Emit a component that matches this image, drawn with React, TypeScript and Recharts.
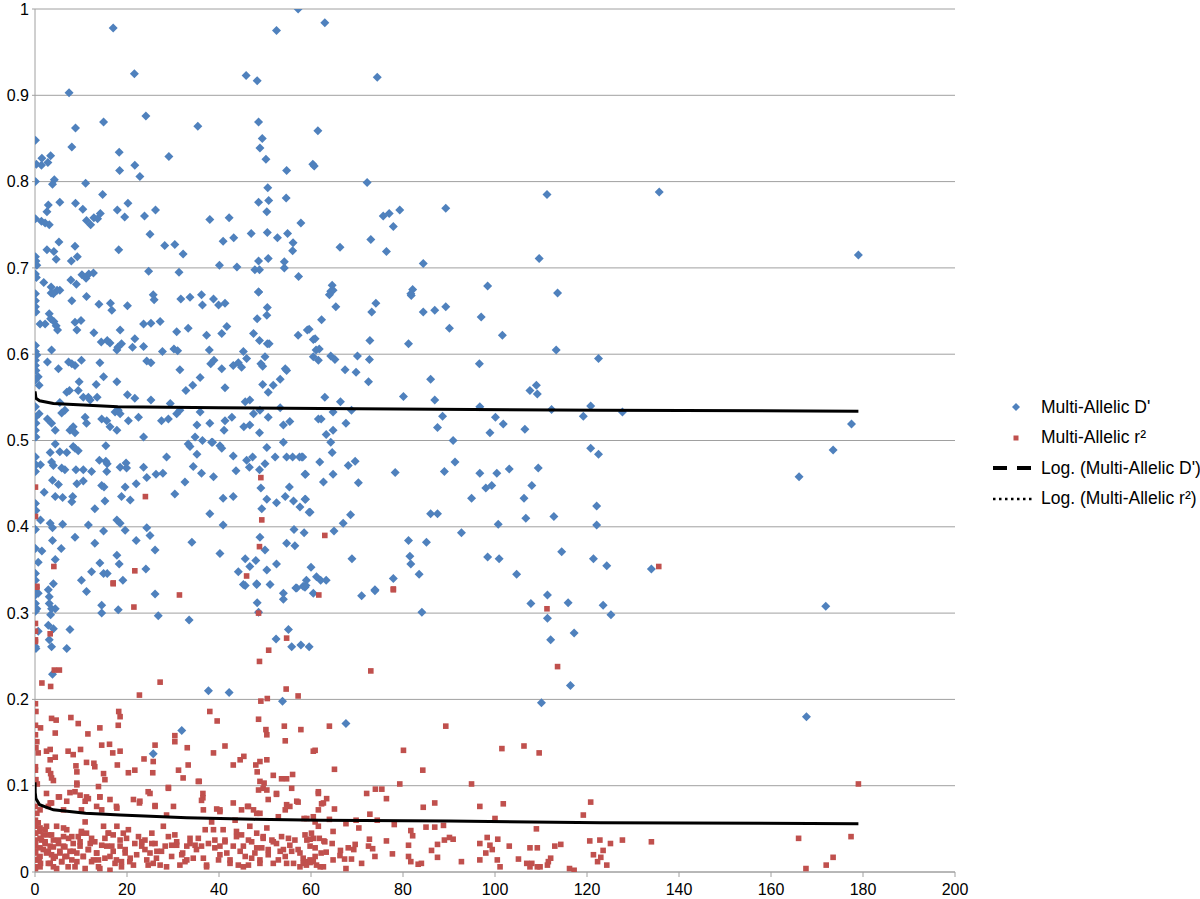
import React from "react";
import { ScatterChart, Scatter, XAxis, YAxis, CartesianGrid } from "recharts";

// [distance, value]
const dPrimePoints: number[][] = [
  [17.0,0.978],[21.6,0.925],[7.4,0.903],[52.5,0.975],[57.2,1.0],[45.9,0.923],[48.3,0.917],[24.1,0.876],[14.9,0.869],[8.8,0.862],
  [35.4,0.864],[48.6,0.869],[49.4,0.85],[48.9,0.839],[0.1,0.848],[8.0,0.84],[18.3,0.834],[29.1,0.829],[3.4,0.83],[1.5,0.827],
  [0.3,0.82],[1.4,0.819],[2.8,0.822],[18.4,0.813],[21.7,0.819],[22.8,0.806],[50.2,0.826],[54.7,0.813],[60.4,0.82],[60.7,0.818],
  [61.5,0.859],[0.1,0.8],[4.2,0.802],[3.8,0.797],[11,0.798],[14.7,0.785],[50.6,0.793],[54.6,0.781],[50.8,0.778],[48.6,0.776],
  [50.4,0.765],[57.8,0.752],[54.9,0.74],[52.7,0.735],[50.5,0.741],[47.0,0.74],[56.1,0.729],[56.0,0.72],[5.4,0.776],[2.9,0.773],
  [2.6,0.765],[8.8,0.775],[10.4,0.768],[11.2,0.755],[12.1,0.75],[12.8,0.758],[13.6,0.757],[14.2,0.763],[17.9,0.767],[19.5,0.759],
  [20.2,0.775],[23.8,0.76],[26.2,0.767],[25,0.739],[38,0.756],[42.2,0.758],[43.2,0.735],[40.9,0.731],[0.1,0.757],[1.4,0.754],
  [2.2,0.752],[3.1,0.75],[5.2,0.73],[8.7,0.725],[2.6,0.721],[4.1,0.719],[4.6,0.71],[9.2,0.713],[7.9,0.708],[18.2,0.721],
  [28.2,0.726],[30.4,0.727],[32.2,0.716],[0.1,0.713],[0.2,0.708],[0.4,0.703],[0.1,0.693],[0.3,0.689],[1.9,0.683],[3.5,0.678],
  [3.5,0.671],[4.8,0.674],[7.8,0.686],[9,0.681],[10.2,0.692],[11.1,0.688],[11.7,0.693],[12.7,0.694],[24.7,0.696],[31.3,0.695],
  [40.1,0.703],[43.9,0.701],[47.8,0.698],[48.8,0.698],[48.6,0.708],[54.2,0.707],[54.2,0.70],[57.3,0.69],[48.6,0.672],[50.7,0.711],
  [63.0,0.984],[74.4,0.921],[72.2,0.799],[111.3,0.785],[89.3,0.769],[79.3,0.767],[75.7,0.76],[77.0,0.763],[77.9,0.748],[73,0.733],
  [66.3,0.724],[76.4,0.719],[109.6,0.711],[84.4,0.705],[64.3,0.673],[64.6,0.68],[82.1,0.675],[81.8,0.668],[98.4,0.679],[113.6,0.671],
  [135.7,0.788],[179,0.715],
  [0.1,0.670],[0.1,0.662],[0.1,0.655],[0.2,0.649],[4.0,0.670],[5.4,0.674],[8.0,0.662],[11.2,0.667],[13.9,0.658],[16.4,0.659],
  [16.7,0.651],[20.1,0.656],[25.7,0.669],[25.9,0.663],[31.7,0.664],[33.7,0.666],[36.2,0.669],[36.4,0.657],[38.8,0.664],[39.9,0.657],
  [41.3,0.659],[48.6,0.672],[50.5,0.654],[50.4,0.645],
  [1.1,0.635],[2.2,0.635],[3.1,0.647],[3.4,0.641],[4.1,0.638],[4.6,0.633],[4.9,0.628],[8.7,0.637],[10.0,0.639],[9.1,0.628],
  [12.8,0.625],[14.4,0.614],[15.7,0.616],[16.3,0.613],[17.8,0.605],[18.0,0.608],[18.8,0.612],[18.5,0.628],[21.2,0.608],[21.7,0.618],
  [23.6,0.635],[25.2,0.636],[27.2,0.638],[23.6,0.609],[27.7,0.603],[30.8,0.626],[30.2,0.606],[31.0,0.604],[33.3,0.630],[37.3,0.622],
  [37.9,0.605],[40.6,0.624],[41.7,0.632],[45.3,0.603],[47.5,0.624],[48.3,0.641],[48.8,0.616],[50.5,0.612],[50.0,0.597],[50.9,0.612],
  [57.2,0.622],[59.2,0.628],[60.5,0.617],[61.1,0.605],[0.1,0.610],[0.1,0.603],[0.4,0.599],
  [0.1,0.593],[0.1,0.587],[0.2,0.581],[0.7,0.574],[0.1,0.570],[0.9,0.564],[2.7,0.591],[3.6,0.605],[5.1,0.583],[7.3,0.591],
  [8.0,0.589],[8.7,0.587],[10.1,0.593],[9.6,0.568],[9.4,0.558],[7.5,0.558],[6.9,0.556],[10.5,0.550],[11.6,0.550],[13.5,0.550],
  [14.1,0.590],[14.9,0.574],[13.3,0.565],[17.8,0.568],[20.1,0.553],[21.7,0.549],[24.3,0.592],[25.2,0.590],[25.2,0.547],[31.5,0.582],
  [32.8,0.558],[34.3,0.564],[35.9,0.573],[38.2,0.589],[38.9,0.593],[40.6,0.583],[41.3,0.561],[43.1,0.587],[44.2,0.590],[44.9,0.585],
  [46.0,0.595],[49.1,0.589],[49.5,0.586],[49.5,0.565],[50.7,0.556],[51.8,0.564],[53.3,0.571],[54.4,0.583],[54.7,0.581],[60.5,0.597],
  [61.6,0.593],[46.7,0.547],[45.7,0.545],
  [0.1,0.539],[0.1,0.527],[0.2,0.520],[0.1,0.512],[0.2,0.504],[0.9,0.531],[2.7,0.525],[3.6,0.520],[4.4,0.512],[5.4,0.544],
  [5.8,0.532],[6.5,0.535],[7.6,0.512],[8.3,0.516],[8.7,0.509],[10.9,0.527],[11.2,0.520],[12.0,0.547],[14.5,0.525],[15.6,0.523],
  [16.3,0.516],[17.4,0.533],[18.1,0.535],[17.8,0.512],[18.5,0.531],[20.3,0.523],[22.5,0.527],[23.6,0.504],[27.5,0.523],[29.0,0.525],
  [29.4,0.543],[30.8,0.531],[31.5,0.535],[35.2,0.518],[34.8,0.504],[35.9,0.533],[36.4,0.500],[38.0,0.520],[38.6,0.498],[41.3,0.523],
  [41.1,0.512],[42.8,0.527],[45.4,0.516],[46.7,0.518],[47.5,0.531],[48.9,0.535],[48.8,0.509],[50.7,0.527],[54.0,0.518],[55.4,0.522],
  [53.3,0.538],[61.6,0.525],
  [0.1,0.481],[0.1,0.464],[0.2,0.472],[1.2,0.472],[3.3,0.486],[3.6,0.475],[4.0,0.471],[4.4,0.496],[5.4,0.487],[5.8,0.468],
  [6.5,0.466],[6.9,0.486],[8.3,0.493],[8.7,0.491],[9.4,0.488],[8.9,0.466],[10.5,0.466],[12.3,0.464],[14.0,0.477],[15.4,0.476],
  [15.7,0.473],[15.6,0.464],[15.4,0.494],[18.5,0.469],[19.8,0.474],[19.9,0.468],[23.6,0.469],[24.3,0.457],[26.3,0.461],[27.8,0.462],
  [28.6,0.481],[32.6,0.452],[33.7,0.493],[33.3,0.496],[34.4,0.470],[35.2,0.484],[36.2,0.462],[38.4,0.498],[38.8,0.458],[40.2,0.494],
  [40.6,0.491],[43.1,0.482],[43.7,0.465],[46.0,0.477],[46.6,0.469],[47.3,0.481],[48.8,0.466],[50.0,0.473],[50.4,0.492],[52.2,0.481],
  [54.0,0.498],[54.7,0.481],[56.0,0.481],[57.5,0.481],[58.2,0.481],[58.7,0.461],
  [0.1,0.427],[0.2,0.419],[2.0,0.440],[3.8,0.454],[4.4,0.435],[5.1,0.449],[6.0,0.434],[8.0,0.429],[8.2,0.435],[9.1,0.450],
  [10.5,0.453],[13.0,0.421],[14.5,0.448],[15.0,0.446],[15.2,0.430],[18.8,0.435],[19.6,0.446],[22.0,0.450],[20.7,0.431],[30.4,0.438],
  [38.0,0.415],[40.9,0.433],[43.1,0.435],[49.1,0.445],[50.4,0.432],[49.3,0.421],[52.5,0.428],[54.4,0.435],[55.3,0.446],[56.2,0.430],
  [57.6,0.423],[58.8,0.432],[59.8,0.417],
  [0.1,0.397],[1.2,0.408],[3.3,0.404],[3.8,0.399],[6.0,0.403],[8.7,0.388],[11.6,0.402],[14.9,0.395],[17.8,0.408],[18.5,0.404],
  [19.6,0.396],[24.3,0.399],[25.0,0.390],[34.1,0.382],[40.9,0.402],[48.9,0.388],[50.0,0.373],[54.7,0.381],[56.3,0.397],[58.5,0.393],
  [0.1,0.375],[1.5,0.372],[0.7,0.359],[3.8,0.384],[5.7,0.375],[4.4,0.362],[13.0,0.381],[14.1,0.358],[17.8,0.367],[22.0,0.384],
  [26.1,0.373],[40.2,0.369],[45.7,0.363],[46.7,0.354],[48.0,0.361],[52.5,0.357],[56.5,0.378],[60.0,0.353],[0.1,0.346],[4.0,0.334],
  [10.1,0.338],[12.3,0.348],[14.9,0.346],[15.7,0.346],[18.3,0.357],[19.1,0.338],[24.1,0.351],[44.2,0.348],[45.7,0.332],[48.2,0.334],
  [50.4,0.350],[56.7,0.329],[58.9,0.332],[61.2,0.342],
  [64.0,0.669],[64.8,0.674],[65.4,0.655],[74.1,0.659],[73.2,0.649],[81.7,0.670],[84.4,0.649],[86.9,0.651],[89.3,0.655],[97.0,0.643],
  [62.3,0.640],[59.6,0.629],[60.9,0.618],[72.8,0.616],[81.2,0.612],[90.1,0.630],[101.6,0.622],[113.3,0.605],[61.8,0.606],[64.3,0.598],
  [65.2,0.594],[70.1,0.598],[72.7,0.594],[67.4,0.582],[69.8,0.579],[72.5,0.568],[96.6,0.589],[122.5,0.595],[86.0,0.571],[107.6,0.558],
  [109.0,0.564],[109.2,0.554],[80.1,0.551],[63.0,0.550],[66.4,0.545],[86.9,0.547],[96.7,0.539],[112.3,0.536],[120.8,0.540],[62.2,0.525],
  [64.8,0.533],[68.8,0.535],[88.6,0.528],[100.1,0.527],[101.8,0.519],[119.2,0.528],[63.3,0.507],[64.8,0.512],[67.6,0.520],[87.5,0.515],
  [98.9,0.509],[106.5,0.513],[64.3,0.498],[90.9,0.500],[64.6,0.486],[58.0,0.481],[61.9,0.475],[68.1,0.471],[69.6,0.476],[91.3,0.475],
  [120.8,0.491],[122.5,0.484],[58.8,0.461],[64.8,0.461],[78.3,0.463],[89.0,0.464],[96.7,0.462],[100.4,0.462],[103.1,0.467],[109.4,0.468],
  [62.7,0.452],[70.3,0.451],[98.0,0.445],[99.3,0.448],[108.0,0.448],[58.7,0.432],[94.9,0.433],[106.3,0.433],[122.1,0.424],[59.6,0.417],
  [68.6,0.414],[86.0,0.415],[87.5,0.415],[106.7,0.410],[112.8,0.412],[67.0,0.404],[100.7,0.403],[122.1,0.402],[65.0,0.395],[92.7,0.393],
  [81.2,0.384],[85.1,0.382],[114.5,0.371],[68.9,0.363],[81.5,0.366],[98.4,0.365],[100.9,0.363],[121.4,0.363],[81.7,0.357],[83.5,0.345],
  [104.7,0.345],[59.0,0.338],[62.1,0.338],[63.3,0.338],[77.9,0.340],[58.7,0.330],[73.9,0.327],
  [127.7,0.533],[177.5,0.519],[173.5,0.489],[166.1,0.458],[124.3,0.355],[134.0,0.351],
  [0.1,0.338],[0.1,0.329],[0.1,0.321],[0.1,0.311],[0.1,0.302],[0.4,0.305],[0.7,0.323],[2.9,0.327],[3.1,0.319],[3.1,0.311],
  [3.6,0.305],[3.4,0.298],[4.4,0.305],[2.9,0.286],[4.0,0.282],[0.7,0.279],[3.1,0.269],[3.6,0.261],[0.1,0.261],[0.2,0.259],
  [6.9,0.259],[7.6,0.281],[11.2,0.325],[14.5,0.309],[14.5,0.300],[18.1,0.304],[26.1,0.322],[26.8,0.297],[33.5,0.292],[37.7,0.210],
  [42.2,0.208],[31.9,0.164],[25.7,0.137],[45.3,0.333],[48.2,0.333],[51.1,0.333],[48.3,0.312],[48.6,0.301],[52.4,0.270],[54.0,0.323],
  [54.0,0.316],[55.1,0.281],[55.8,0.261],[56.9,0.329],[57.8,0.263],[59.6,0.261],[60.5,0.323],[3.8,0.229],[53.8,0.198],
  [58.3,0.331],[71.0,0.320],[73.9,0.326],[84.1,0.301],[107.8,0.311],[111.4,0.321],[115.9,0.312],[111.4,0.294],[112.1,0.269],[117.2,0.277],
  [116.4,0.216],[110.1,0.196],[67.6,0.172],
  [123.5,0.309],[125.2,0.298],[171.9,0.308],[167.7,0.180],
];

const r2Points: number[][] = [
  [0.1,0.446],[0.1,0.412],[49.1,0.457],[24.0,0.435],[49.3,0.408],[48.8,0.377],[4.1,0.354],[21.7,0.349],[17.0,0.334],[46.0,0.343],
  [0.4,0.330],[63.0,0.390],[77.9,0.328],[135.6,0.354],
  [0.4,0.331],[0.1,0.288],[0.1,0.279],[0.1,0.269],[0.1,0.267],[3.3,0.276],[4.2,0.234],[5.3,0.234],[1.5,0.219],[3.4,0.215],
  [17.0,0.335],[21.5,0.307],[31.4,0.321],[27.2,0.220],[22.7,0.205],[0.1,0.195],[48.6,0.300],[48.8,0.244],[50.8,0.257],[54.7,0.271],
  [54.6,0.212],[50.5,0.201],[49.1,0.198],[57.2,0.204],[61.7,0.321],
  [0.2,0.186],[0.1,0.170],[1.2,0.167],[0.1,0.159],[0.4,0.151],[0.2,0.144],[3.6,0.178],[4.6,0.176],[4.4,0.161],[0.7,0.138],
  [2.5,0.140],[3.3,0.142],[7.8,0.179],[9.4,0.172],[11.5,0.160],[14.1,0.167],[14.5,0.147],[16.2,0.148],[18.2,0.186],[18.5,0.180],
  [18.1,0.170],[18.5,0.140],[23.7,0.131],[26.1,0.147],[30.4,0.158],[30.4,0.151],[33.1,0.144],[38.0,0.186],[39.6,0.175],[38.8,0.138],
  [41.3,0.146],[48.6,0.177],[50.2,0.165],[50.4,0.159],[54.2,0.169],[54.4,0.152],[57.8,0.165],[60.5,0.140],[60.9,0.141],
  [0.1,0.122],[0.1,0.118],[0.2,0.107],[0.5,0.102],[2.9,0.118],[3.4,0.114],[3.6,0.109],[4.0,0.106],[4.4,0.133],[3.3,0.130],
  [7.2,0.140],[8.3,0.136],[8.9,0.123],[9.1,0.116],[9.9,0.142],[11.2,0.127],[12.8,0.126],[13.0,0.122],[14.9,0.114],[15.2,0.107],
  [16.9,0.138],[17.9,0.124],[20.3,0.115],[21.7,0.118],[25.6,0.115],[25.7,0.128],[29.0,0.097],[31.2,0.118],[32.2,0.109],[33.3,0.124],
  [35.7,0.105],[36.5,0.091],[43.1,0.124],[44.6,0.130],[45.4,0.134],[48.0,0.124],[48.3,0.116],[48.9,0.128],[50.4,0.130],[49.8,0.103],
  [51.8,0.112],[53.6,0.108],[54.7,0.108],[56.0,0.113],[55.8,0.097],[52.5,0.091],[48.6,0.095],[48.9,0.105],[61.6,0.093],
  [0.1,0.076],[0.4,0.068],[1.1,0.072],[2.5,0.091],[2.9,0.076],[3.6,0.080],[5.3,0.087],[6.2,0.072],[6.9,0.082],[8.7,0.093],
  [9.1,0.103],[10.1,0.072],[11.2,0.087],[13.8,0.099],[14.1,0.087],[14.5,0.072],[16.3,0.084],[17.8,0.074],[21.4,0.084],[22.7,0.080],
  [25.0,0.091],[26.1,0.076],[28.6,0.066],[30.1,0.076],[36.6,0.072],[36.5,0.086],[39.5,0.073],[40.2,0.070],[43.1,0.080],[44.9,0.072],
  [46.2,0.076],[47.5,0.072],[48.2,0.068],[49.6,0.097],[50.7,0.084],[52.9,0.064],[54.4,0.072],[55.4,0.076],[57.2,0.081],[60.5,0.064],
  [61.6,0.072],
  [0.1,0.060],[0.1,0.053],[0.1,0.045],[0.1,0.037],[0.1,0.030],[0.1,0.022],[0.1,0.014],[0.1,0.006],[0.7,0.057],[1.1,0.047],
  [1.4,0.037],[1.8,0.026],[0.9,0.016],[1.2,0.010],[2.5,0.053],[2.9,0.043],[3.3,0.030],[3.6,0.020],[3.3,0.010],[4.0,0.006],
  [4.7,0.053],[5.1,0.033],[5.4,0.022],[5.8,0.012],[6.9,0.049],[7.3,0.039],[7.6,0.024],[8.0,0.014],[8.7,0.006],[9.4,0.041],
  [9.8,0.030],[10.5,0.018],[10.9,0.058],[11.2,0.045],[12.0,0.033],[12.3,0.012],[13.4,0.022],[14.1,0.004],[14.9,0.053],[15.2,0.039],
  [15.6,0.030],[16.3,0.018],[17.0,0.043],[17.8,0.053],[18.5,0.030],[18.8,0.012],[19.6,0.022],[19.9,0.039],[21.4,0.008],[23.2,0.030],
  [23.9,0.037],[24.3,0.014],[25.4,0.045],[26.1,0.033],[26.5,0.024],[27.2,0.008],[27.9,0.053],[29.0,0.041],[30.8,0.031],[31.5,0.008],
  [32.1,0.022],[33.0,0.030],[33.7,0.039],[34.4,0.016],[35.5,0.039],[36.2,0.030],[37.0,0.049],[37.3,0.008],[38.4,0.058],[39.1,0.037],
  [40.2,0.030],[40.9,0.049],[41.7,0.022],[42.4,0.010],[43.5,0.060],[43.8,0.041],[44.2,0.008],[45.3,0.030],[45.7,0.018],[46.7,0.053],
  [47.1,0.035],[47.8,0.022],[48.9,0.014],[49.6,0.039],[50.4,0.051],[50.7,0.026],[51.8,0.010],[52.5,0.033],[53.6,0.041],[54.4,0.018],
  [54.7,0.010],[55.8,0.024],[56.5,0.037],[57.6,0.006],[58.3,0.016],[58.9,0.012],[59.8,0.030],[60.1,0.045],[60.5,0.039],[61.6,0.053],
  [1.8,0.043],[2.2,0.033],[2.9,0.024],[4.0,0.037],[4.4,0.018],[6.2,0.041],[6.2,0.030],[6.5,0.018],[8.3,0.033],[9.1,0.022],
  [10.1,0.045],[11.6,0.026],[13.0,0.035],[13.8,0.014],[16.0,0.045],[16.7,0.030],[17.4,0.010],[19.2,0.045],[20.7,0.016],[21.7,0.033],
  [22.5,0.041],[25.0,0.022],[25.7,0.010],[28.3,0.030],[29.7,0.018],[30.4,0.043],[32.6,0.012],[34.8,0.031],[37.7,0.033],[39.9,0.014],
  [41.3,0.037],[43.1,0.030],[44.9,0.043],[46.4,0.008],[48.2,0.045],[49.3,0.028],[51.5,0.037],[53.3,0.024],[55.4,0.031],[57.2,0.026],
  [59.1,0.037],[60.9,0.018],[61.2,0.008],
  [0.1,0.056],[0.1,0.045],[0.1,0.035],[0.1,0.024],[0.1,0.014],[0.1,0.004],[1.1,0.051],[1.1,0.039],[1.1,0.028],[1.1,0.018],
  [1.1,0.006],[2.2,0.049],[2.2,0.035],[2.5,0.022],[2.9,0.010],[3.6,0.043],[4.0,0.029],[4.0,0.016],[4.7,0.004],[5.1,0.037],
  [5.4,0.024],[5.8,0.012],[6.2,0.051],[6.5,0.029],[6.9,0.018],[7.2,0.006],[8.0,0.041],[8.3,0.024],[9.1,0.012],[9.8,0.035],
  [10.1,0.047],[10.5,0.018],[10.9,0.004],[11.6,0.026],[12.3,0.039],[12.7,0.014],[13.4,0.022],[13.8,0.006],[14.5,0.031],[15.2,0.016],
  [15.9,0.045],[16.3,0.002],[17.0,0.024],[17.7,0.014],[18.5,0.037],[18.8,0.006],[19.6,0.026],[20.3,0.049],[20.6,0.012],[22.1,0.020],
  [23.2,0.035],[23.9,0.026],[24.6,0.008],[25.4,0.033],[26.4,0.016],[27.5,0.024],[28.6,0.006],[29.7,0.031],[30.8,0.035],[31.9,0.020],
  [33.0,0.014],[33.7,0.033],[35.1,0.026],[36.6,0.016],[37.3,0.006],[38.8,0.049],[39.1,0.028],[40.2,0.020],[41.3,0.035],[42.4,0.014],
  [43.8,0.047],[44.6,0.024],[45.3,0.006],[46.4,0.037],[47.1,0.016],[48.2,0.028],[48.9,0.010],[49.6,0.041],[50.7,0.020],[51.8,0.035],
  [52.9,0.014],[54.0,0.026],[55.1,0.039],[56.2,0.010],[57.6,0.022],[58.7,0.043],[59.8,0.014],[60.9,0.028],[62.0,0.006],[63.0,0.035],
  [9.1,0.101],[10.9,0.082],[13.4,0.076],[17.7,0.076],[22.8,0.082],[24.6,0.093],[26.1,0.077],[29.0,0.098],[35.5,0.105],[36.2,0.083],
  [40.2,0.072],[46.4,0.076],[48.9,0.068],[50.4,0.095],[52.5,0.090],[54.7,0.078],[56.9,0.082],[59.1,0.062],[61.6,0.091],[62.7,0.080],
  [5.1,0.087],[7.6,0.092],[3.3,0.080],[9.8,0.089],[11.6,0.085],[14.1,0.087],
  [77.9,0.327],[111.3,0.305],[73.0,0.233],[113.6,0.238],[64.0,0.169],[89.3,0.169],[80.1,0.141],[101.5,0.143],[106.3,0.146],[109.6,0.138],
  [65.1,0.119],[84.3,0.118],[79.3,0.102],[94.9,0.102],[63.4,0.085],[62.3,0.079],[65.1,0.073],[72.1,0.091],[74.0,0.096],[75.4,0.096],
  [76.4,0.085],[72.8,0.067],[84.4,0.075],[86.9,0.080],[96.7,0.076],[101.8,0.079],[100.0,0.062],[119.2,0.066],[120.8,0.081],[58.5,0.062],
  [60.9,0.058],[64.0,0.061],[67.6,0.056],[69.8,0.060],[70.4,0.051],[74.4,0.060],[78.1,0.055],[85.0,0.052],[86.9,0.052],[88.8,0.054],
  [109.0,0.050],[64.8,0.047],[81.7,0.048],[82.1,0.042],[59.8,0.038],[61.8,0.039],[62.8,0.036],[72.7,0.038],[76.4,0.036],[89.0,0.037],
  [90.1,0.040],[90.9,0.038],[96.7,0.033],[98.3,0.040],[100.6,0.038],[120.6,0.036],[64.6,0.033],[66.4,0.025],[68.1,0.028],[69.6,0.032],
  [69.3,0.026],[72.5,0.030],[73.4,0.027],[81.2,0.031],[87.5,0.032],[86.2,0.025],[98.9,0.031],[99.4,0.026],[103.1,0.030],[107.6,0.028],
  [109.2,0.028],[113.0,0.030],[114.3,0.032],[62.2,0.022],[63.3,0.023],[64.8,0.014],[66.3,0.019],[67.3,0.015],[68.8,0.015],[73.9,0.018],
  [77.7,0.021],[81.2,0.018],[81.7,0.012],[83.3,0.009],[84.0,0.010],[87.5,0.017],[92.7,0.012],[96.7,0.014],[98.0,0.022],[100.5,0.014],
  [105.1,0.015],[106.9,0.010],[108.0,0.010],[109.8,0.006],[111.6,0.012],[112.1,0.016],[111.4,0.008],[116.2,0.004],[117.2,0.002],[121.4,0.020],
  [122.3,0.012],[58.3,0.010],[59.0,0.008],[59.8,0.011],[60.5,0.012],[62.7,0.006],[67.6,0.004],[71.0,0.010],[101.1,0.006],[107.6,0.006],
  [109.2,0.006],
  [179,0.102],[166,0.039],[177.4,0.041],[173.5,0.017],[172,0.008],[167.6,0.004],[122.8,0.037],[125.1,0.033],[127.7,0.037],[134,0.035],
  [123.5,0.025],[123,0.017],[124.3,0.008],
];

// logarithmic trend lines as drawn
const dPrimeTrend: number[][] = [
  [0.02,0.557],[0.2,0.549],[1,0.546],[4,0.543],[18,0.539],[40,0.538],[62,0.537],[123,0.535],[179,0.534],
];
const r2Trend: number[][] = [
  [0.01,0.104],[0.05,0.092],[0.2,0.085],[1,0.078],[4,0.072],[11,0.068],[18.5,0.066],[33,0.063],[47.5,0.061],[62,0.060],
  [90,0.059],[123,0.057],[179,0.056],
];

const xTicks = [0, 20, 40, 60, 80, 100, 120, 140, 160, 180, 200];
const yTicks = [0, 0.1, 0.2, 0.3, 0.4, 0.5, 0.6, 0.7, 0.8, 0.9, 1];

const BLUE = "#4F81BD";
const RED = "#C0504D";
const GRID = "#a0a0a0";
const FONT = "'Liberation Sans', Arial, Helvetica, sans-serif";

const toRows = (pts: number[][]) => pts.map(([x, y]) => ({ x, y }));

const Diamond = (props: any) => {
  const { cx, cy } = props;
  if (cx == null || cy == null) return <g />;
  const r = 4.5;
  return <path d={`M${cx},${cy - r}L${cx + r},${cy}L${cx},${cy + r}L${cx - r},${cy}Z`} fill={BLUE} />;
};

const Square = (props: any) => {
  const { cx, cy } = props;
  if (cx == null || cy == null) return <g />;
  return <rect x={cx - 2.8} y={cy - 2.8} width={5.6} height={5.6} fill={RED} />;
};

const NoDot = () => <g />;

const LegendRow = ({ icon, label }: { icon: React.ReactNode; label: string }) => (
  <div style={{ display: "flex", alignItems: "center", height: 30.5 }}>
    <svg width={50} height={20} style={{ flex: "none" }}>{icon}</svg>
    <span style={{ fontSize: 17.5, color: "#000", whiteSpace: "nowrap" }}>{label}</span>
  </div>
);

export default function App() {
  return (
    <div style={{ position: "absolute", left: 0, top: 0, width: 1200, height: 899, background: "#fff", fontFamily: FONT, overflow: "hidden" }}>
      <ScatterChart width={1200} height={899} margin={{ top: 9, right: 245, bottom: 0, left: 0 }}>
        <CartesianGrid vertical={false} stroke={GRID} strokeWidth={1} />
        <XAxis
          type="number"
          dataKey="x"
          domain={[0, 200]}
          ticks={xTicks}
          height={27}
          stroke={GRID}
          tickSize={5}
          tickMargin={7}
          tick={{ fontSize: 16, fill: "#000", fontFamily: FONT }}
          allowDataOverflow
        />
        <YAxis
          type="number"
          dataKey="y"
          domain={[0, 1]}
          ticks={yTicks}
          width={35}
          stroke={GRID}
          tickSize={3}
          tickMargin={3}
          tick={{ fontSize: 16, fill: "#000", fontFamily: FONT }}
          tickFormatter={(v: number) => String(v)}
          allowDataOverflow
        />
        <Scatter name="Multi-Allelic D'" data={toRows(dPrimePoints)} fill={BLUE} shape={Diamond} isAnimationActive={false} />
        <Scatter name="Multi-Allelic r²" data={toRows(r2Points)} fill={RED} shape={Square} isAnimationActive={false} />
        <Scatter
          name="Log. (Multi-Allelic D')"
          data={toRows(dPrimeTrend)}
          line={{ stroke: "#000", strokeWidth: 3 }}
          shape={NoDot}
          isAnimationActive={false}
        />
        <Scatter
          name="Log. (Multi-Allelic r²)"
          data={toRows(r2Trend)}
          line={{ stroke: "#000", strokeWidth: 3 }}
          shape={NoDot}
          isAnimationActive={false}
        />
      </ScatterChart>
      <div style={{ position: "absolute", left: 991, top: 392 }}>
        <LegendRow icon={<path d="M25,6L29,10L25,14L21,10Z" fill={BLUE} />} label="Multi-Allelic D'" />
        <LegendRow icon={<rect x={22.5} y={7.5} width={5} height={5} fill={RED} />} label="Multi-Allelic r²" />
        <LegendRow
          icon={<line x1={2} y1={10} x2={40} y2={10} stroke="#000" strokeWidth={4} strokeDasharray="14 10" />}
          label="Log. (Multi-Allelic D')"
        />
        <LegendRow
          icon={<line x1={2} y1={10} x2={44} y2={10} stroke="#000" strokeWidth={2.5} strokeDasharray="2.5 3.5" />}
          label="Log. (Multi-Allelic r²)"
        />
      </div>
    </div>
  );
}
